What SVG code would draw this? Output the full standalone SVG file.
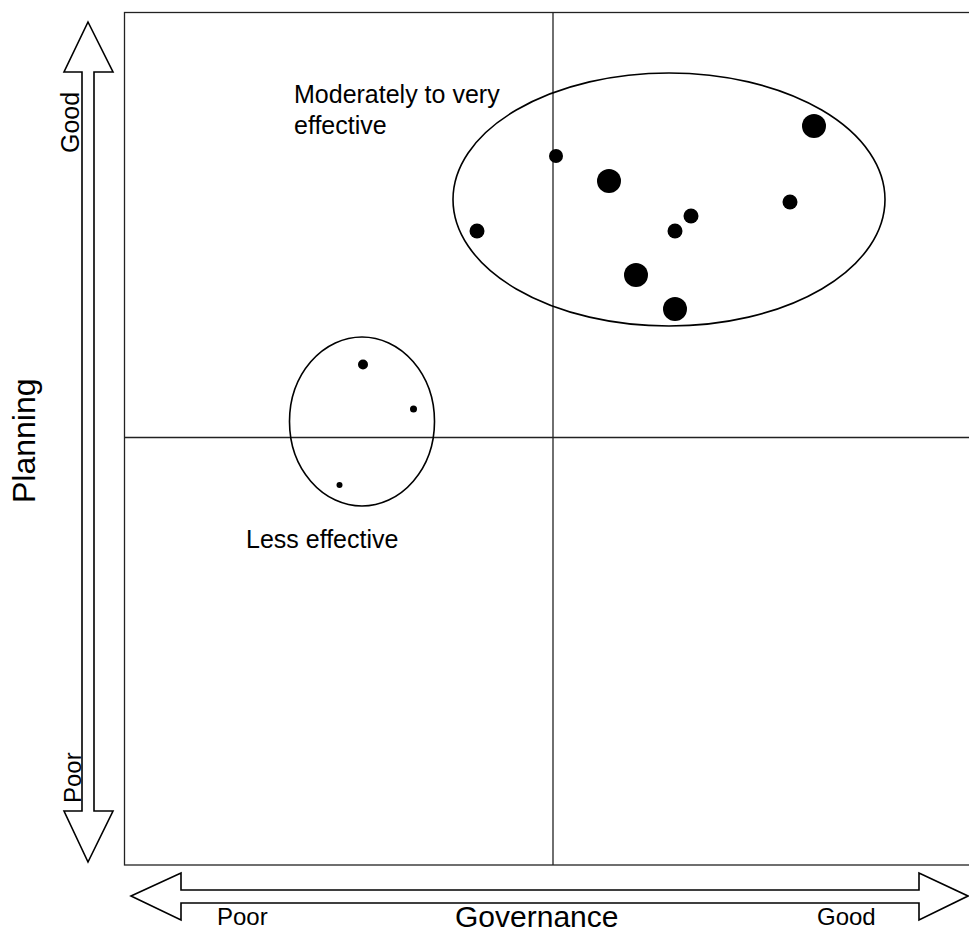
<svg xmlns="http://www.w3.org/2000/svg" width="969" height="934" viewBox="0 0 969 934">
<style>
.frame{fill:none;stroke:#222;stroke-width:1.3}
.arrow{fill:#fff;stroke:#000;stroke-width:1.6;stroke-linejoin:miter}
.ring{fill:none;stroke:#000;stroke-width:1.6}
.dot{fill:#000}
.t{font-family:"Liberation Sans",Arial,sans-serif;fill:#000}
.s{font-size:24px}
.m{font-size:25px}
.l{font-size:32px}
.g{font-size:30px}
</style>
<rect width="969" height="934" fill="#fff"/>
<g id="frame">
<rect class="frame" x="124.5" y="12.5" width="846" height="852.5"/>
<line class="frame" x1="553" y1="12" x2="553" y2="865"/>
<line class="frame" x1="124" y1="437.5" x2="969" y2="437.5"/>
</g>
<g id="planning-axis">
<polygon class="arrow" points="88,22 113,72 94,72 94,811 113,811 88,862 64,811 82,811 82,72 64,72"/>
<text class="t m" transform="translate(79,153) rotate(-90)">Good</text>
<text class="t s" transform="translate(81,803) rotate(-90)">Poor</text>
<text class="t l" transform="translate(35,503) rotate(-90)">Planning</text>
</g>
<g id="governance-axis">
<polygon class="arrow" points="131,896 181,873 181,890 919,890 919,873 968,896 919,920 919,903 181,903 181,920"/>
<text class="t s" x="217" y="925">Poor</text>
<text class="t s" x="817" y="925">Good</text>
<text class="t g" x="455" y="927">Governance</text>
</g>
<g id="effective-cluster">
<ellipse class="ring" cx="669" cy="199.5" rx="216" ry="126.5"/>
<circle class="dot" cx="556" cy="156" r="7"/>
<circle class="dot" cx="609" cy="181" r="12"/>
<circle class="dot" cx="477" cy="231" r="7.5"/>
<circle class="dot" cx="691" cy="216" r="7.5"/>
<circle class="dot" cx="675" cy="231" r="7.5"/>
<circle class="dot" cx="790" cy="202" r="7.5"/>
<circle class="dot" cx="814" cy="126" r="12"/>
<circle class="dot" cx="636" cy="275" r="12"/>
<circle class="dot" cx="675" cy="309" r="12"/>
<text class="t m" x="294" y="103">Moderately to very</text>
<text class="t m" x="294" y="134">effective</text>
</g>
<g id="less-cluster">
<ellipse class="ring" cx="362" cy="421.5" rx="72.5" ry="84.5"/>
<circle class="dot" cx="363" cy="364.5" r="5"/>
<circle class="dot" cx="413.5" cy="409" r="3.5"/>
<circle class="dot" cx="339.5" cy="485" r="3"/>
<text class="t m" x="246" y="548">Less effective</text>
</g>
</svg>
